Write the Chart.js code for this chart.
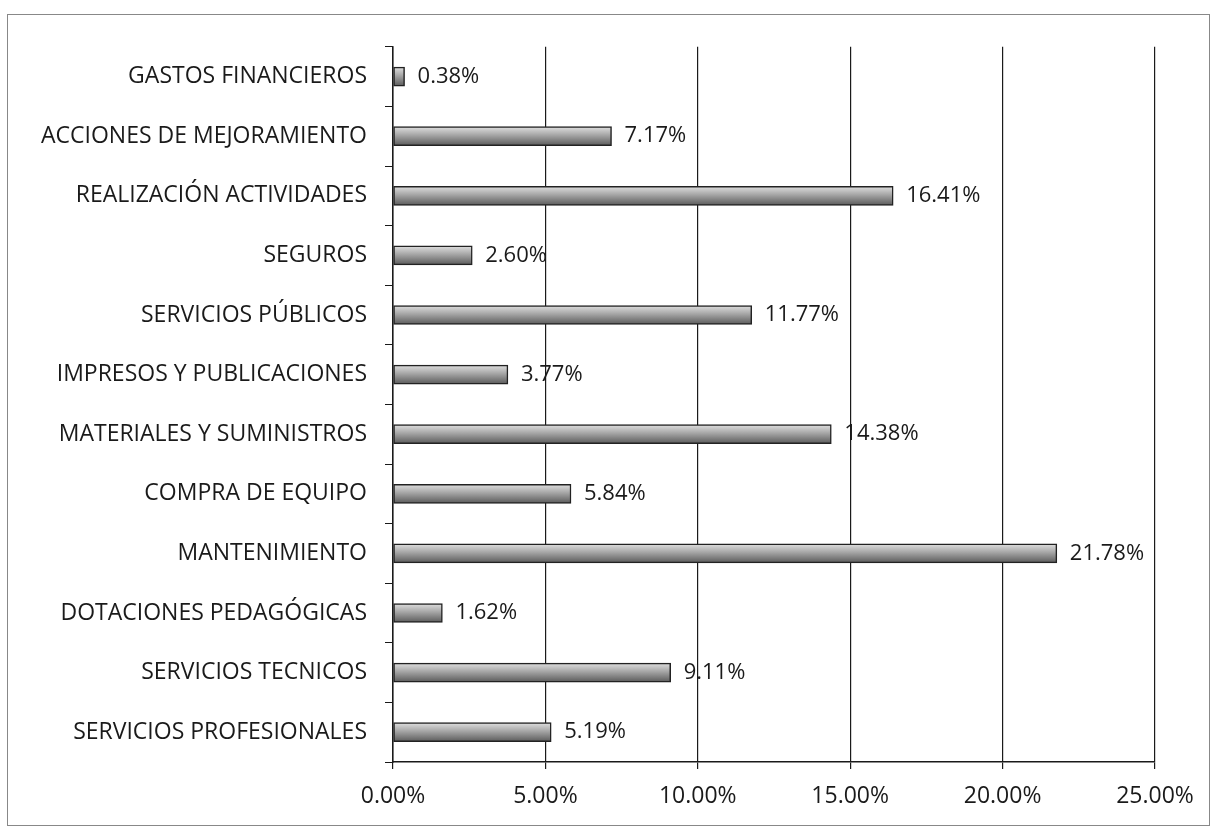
<!DOCTYPE html>
<html>
<head>
<meta charset="utf-8">
<script src="https://cdn.jsdelivr.net/npm/chart.js@4"></script>
<style>
    body { margin: 0; background: #fff; }
    #frame {
        position: absolute; left: 7px; top: 14px;
        width: 1203px; height: 812px;
        border: 1px solid #888; box-sizing: border-box;
    }
    canvas { display: block; }
</style>
</head>
<body>
<div id="frame"><canvas id="gastosChart" width="1201" height="810"></canvas></div>
<script>
const categories = [
    'GASTOS FINANCIEROS',
    'ACCIONES DE MEJORAMIENTO',
    'REALIZACIÓN ACTIVIDADES',
    'SEGUROS',
    'SERVICIOS PÚBLICOS',
    'IMPRESOS Y PUBLICACIONES',
    'MATERIALES Y SUMINISTROS',
    'COMPRA DE EQUIPO',
    'MANTENIMIENTO',
    'DOTACIONES PEDAGÓGICAS',
    'SERVICIOS TECNICOS',
    'SERVICIOS PROFESIONALES'
];
const percentages = [0.38, 7.17, 16.41, 2.60, 11.77, 3.77, 14.38, 5.84, 21.78, 1.62, 9.11, 5.19];
const xTicks = [0, 5, 10, 15, 20, 25];

const fontFamily = '"Open Sans", "Noto Sans", sans-serif';

// value labels drawn next to each bar end
const valueLabels = {
    id: 'valueLabels',
    afterDatasetsDraw(chart) {
        const ctx = chart.ctx;
        const meta = chart.getDatasetMeta(0);
        ctx.save();
        ctx.font = '22px ' + fontFamily;
        ctx.fillStyle = '#1a1a1a';
        ctx.textBaseline = 'middle';
        meta.data.forEach((bar, i) => {
            ctx.fillText(percentages[i].toFixed(2) + '%', bar.x + 13, bar.y);
        });
        ctx.restore();
    }
};

function barGradient(context) {
    const yScale = context.chart.scales && context.chart.scales.y;
    if (!yScale || context.dataIndex === undefined) return '#a0a0a0';
    const cy = yScale.getPixelForValue(context.dataIndex);
    if (!isFinite(cy)) return '#a0a0a0';
    const g = context.chart.ctx.createLinearGradient(0, cy - 9, 0, cy + 9);
    g.addColorStop(0, '#dcdcdc');
    g.addColorStop(0.4, '#ababab');
    g.addColorStop(1, '#5e5e5e');
    return g;
}

const ctx = document.getElementById('gastosChart');
new Chart(ctx, {
    type: 'bar',
    data: {
        labels: categories,
        datasets: [{
            data: percentages,
            backgroundColor: barGradient,
            borderColor: '#222',
            borderWidth: 1.5,
            borderSkipped: false,
            barThickness: 19
        }]
    },
    options: {
        indexAxis: 'y',
        responsive: false,
        animation: false,
        layout: { padding: { left: 0, right: 54, top: 27, bottom: 0 } },
        plugins: {
            legend: { display: false },
            tooltip: { enabled: false }
        },
        scales: {
            x: {
                min: 0,
                max: 25,
                afterBuildTicks(scale) {
                    scale.ticks = xTicks.map(v => ({ value: v }));
                },
                afterFit(scale) { scale.height = 63; },
                grid: {
                    color: '#1a1a1a',
                    lineWidth: 1.2,
                    tickLength: 7,
                    drawTicks: true
                },
                border: { color: '#1a1a1a', width: 1.5 },
                ticks: {
                    color: '#1a1a1a',
                    padding: 14,
                    font: { family: fontFamily, size: 23 },
                    callback: v => v.toFixed(2) + '%'
                }
            },
            y: {
                afterFit(scale) { scale.width = 385; },
                grid: {
                    drawOnChartArea: false,
                    color: '#1a1a1a',
                    tickLength: 8,
                    offset: true
                },
                border: { color: '#1a1a1a', width: 1.5 },
                ticks: {
                    color: '#1a1a1a',
                    padding: 18,
                    autoSkip: false,
                    font: { family: fontFamily, size: 23 }
                }
            }
        }
    },
    plugins: [valueLabels]
});
</script>
</body>
</html>
